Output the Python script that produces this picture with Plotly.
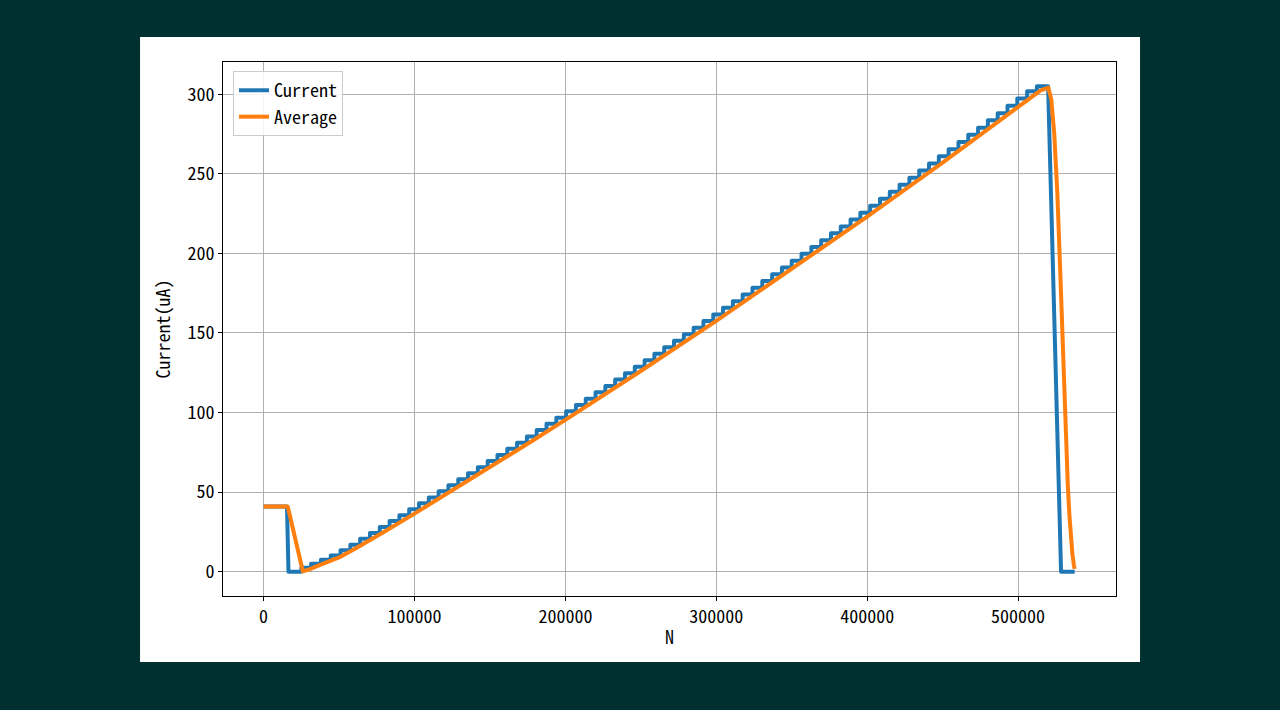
import plotly.graph_objects as go

# Current: flat start, drop to zero, staircase ramp, fast fall, zero tail
lead_n = [0, 15500, 16500, 25000]
lead_i = [41, 41, 0, 0]

step_n = [25000, 31500, 38000, 44500, 51000, 57500, 64000, 70500, 77000, 83500,
          90000, 96500, 103000, 109500, 116000, 122500, 129000, 135500, 142000, 148500,
          155000, 161500, 168000, 174500, 181000, 187500, 194000, 200500, 207000, 213500,
          220000, 226500, 233000, 239500, 246000, 252500, 259000, 265500, 272000, 278500,
          285000, 291500, 298000, 304500, 311000, 317500, 324000, 330500, 337000, 343500,
          350000, 356500, 363000, 369500, 376000, 382500, 389000, 395500, 402000, 408500,
          415000, 421500, 428000, 434500, 441000, 447500, 454000, 460500, 467000, 473500,
          480000, 486500, 493000, 499500, 506000, 512500]
step_i = [2.5, 5.0, 7.5, 10.2, 13.5, 17.0, 20.7, 24.4, 28.1, 31.8,
          35.5, 39.2, 43.0, 46.7, 50.5, 54.3, 58.1, 61.9, 65.7, 69.5,
          73.4, 77.3, 81.1, 85.0, 89.0, 92.9, 96.8, 100.8, 104.7, 108.7,
          112.7, 116.7, 120.7, 124.7, 128.8, 132.8, 136.9, 141.0, 145.1, 149.2,
          153.3, 157.5, 161.6, 165.8, 170.0, 174.2, 178.4, 182.6, 186.9, 191.1,
          195.4, 199.7, 204.0, 208.3, 212.6, 216.9, 221.3, 225.6, 230.0, 234.4,
          238.8, 243.2, 247.6, 252.1, 256.5, 261.0, 265.5, 270.0, 274.5, 279.0,
          283.6, 288.1, 292.7, 297.3, 301.9, 305.0]
step_end = 519900

tail_n = [528500, 537500]
tail_i = [0, 0]

# Average (moving average of the current)
avg_n = [0, 16000, 26000, 30000, 35000, 40000, 50000, 60000, 70000, 80000,
         100000, 125000, 150000, 175000, 200000, 250000, 300000, 350000, 400000, 450000,
         500000, 510000, 515000, 520000, 522000, 524000, 526000, 528000, 529000, 530000,
         531000, 532000, 533000, 534000, 535000, 536000, 537000, 537500]
avg_i = [41, 41, 0.3, 1.3, 3.4, 5.1, 9.0, 14.1, 19.4, 25.1,
         36.5, 50.9, 65.6, 80.4, 95.4, 126.1, 157.6, 190.0, 223.1, 257.1,
         291.8, 298.9, 302.4, 304.2, 296.9, 274.9, 238.3, 187.3, 158.6, 128.2,
         99.8, 74.9, 53.6, 35.9, 21.7, 11.1, 4.0, 1.8]

x_ticks = [0, 100000, 200000, 300000, 400000, 500000]
y_ticks = [0, 50, 100, 150, 200, 250, 300]

cur_x = list(lead_n)
cur_y = list(lead_i)
for n0, n1, v in zip(step_n, step_n[1:] + [step_end], step_i):
    cur_x += [n0, n1]
    cur_y += [v, v]
cur_x += tail_n
cur_y += tail_i

FONT = "Noto Sans Mono CJK SC, Noto Sans CJK SC, DejaVu Sans Mono, monospace"
FS = 18

fig = go.Figure()
fig.add_trace(go.Scatter(x=cur_x, y=cur_y, mode="lines", name="Current",
                         line=dict(color="#1f77b4", width=4)))
fig.add_trace(go.Scatter(x=avg_n, y=avg_i, mode="lines", name="Average",
                         line=dict(color="#ff7f0e", width=4)))

# white figure panel on the dark page
fig.add_shape(type="rect", xref="paper", yref="paper", layer="below",
              x0=-0.0929, x1=1.0269, y0=-0.1236, y1=1.0468,
              fillcolor="white", line=dict(width=0))

axis_common = dict(
    showgrid=True, gridcolor="#b0b0b0", gridwidth=1,
    showline=True, linecolor="black", linewidth=1, mirror=True,
    ticks="outside", ticklen=4, tickcolor="black", zeroline=False,
    tickfont=dict(size=FS, color="black", family=FONT),
)

fig.update_xaxes(range=[-26900, 564900], tickvals=x_ticks, tickformat="d",
                 title=dict(text="N", font=dict(size=FS, color="black", family=FONT), standoff=4),
                 **axis_common)
fig.update_yaxes(range=[-15.25, 320.25], tickvals=y_ticks,
                 title=dict(text="Current(uA)", font=dict(size=FS, color="black", family=FONT), standoff=12),
                 **axis_common)

fig.update_layout(
    width=1280, height=710,
    paper_bgcolor="#003030", plot_bgcolor="white",
    margin=dict(l=223, r=164, t=62, b=114),
    font=dict(family=FONT, color="black"),
    showlegend=True,
    legend=dict(x=0.0112, y=0.983, xanchor="left", yanchor="top",
                entrywidth=90, entrywidthmode="pixels",
                bgcolor="rgba(255,255,255,0.85)", bordercolor="#cccccc", borderwidth=1,
                font=dict(size=FS, family=FONT, color="black")),
)

fig.write_html(
    "out.html",
    config={"displayModeBar": False},
    post_script=(
        "document.body.style.margin='0';"
        "document.body.style.background='#003030';"
        "document.querySelectorAll('.scatterlayer path.js-line')"
        ".forEach(function(p){p.style.strokeLinejoin='round';});"
    ),
)
